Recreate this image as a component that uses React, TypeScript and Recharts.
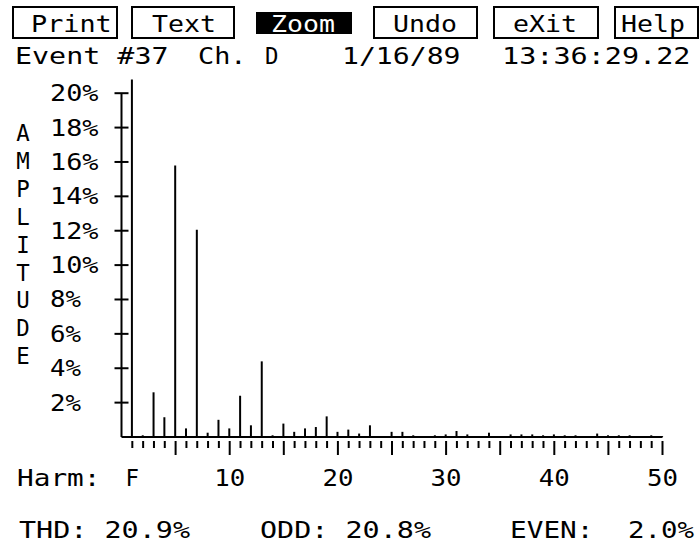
import React from 'react'
import { BarChart, Bar, XAxis, YAxis, ReferenceLine } from 'recharts'

// harmonic spectrum, amplitude in % of fundamental
const harmonics = [
    1, 2, 3, 4, 5, 6, 7, 8, 9, 10,
    11, 12, 13, 14, 15, 16, 17, 18, 19, 20,
    21, 22, 23, 24, 25, 26, 27, 28, 29, 30,
    31, 32, 33, 34, 35, 36, 37, 38, 39, 40,
    41, 42, 43, 44, 45, 46, 47, 48, 49, 50
]
const amplitude = [
    100, 0.1, 2.6, 1.15, 15.8, 0.5, 12.05, 0.25, 1.0, 0.5,
    2.4, 0.68, 4.4, 0.1, 0.78, 0.3, 0.5, 0.58, 1.2, 0.3,
    0.43, 0.2, 0.68, 0.05, 0.3, 0.3, 0.1, 0.05, 0.1, 0.15,
    0.35, 0.15, 0.05, 0.25, 0.05, 0.15, 0.15, 0.15, 0.1, 0.15,
    0.1, 0.1, 0.05, 0.2, 0.1, 0.1, 0.1, 0.05, 0.1, 0.05
]
const yTicks = [2, 4, 6, 8, 10, 12, 14, 16, 18, 20]
const harmLabels: Record<number, string> = { 1: 'F', 10: '10', 20: '20', 30: '30', 40: '40', 50: '50' }

const menuItems = ['Print', 'Text', 'Zoom', 'Undo', 'eXit', 'Help']
const headerFields = ['Event #37', 'Ch.', 'D', '1/16/89', '13:36:29.22']
const axisTitle = 'AMPLITUDE'
const xTitle = 'Harm:'
const summaryFields = ['THD: 20.9%', 'ODD: 20.8%', 'EVEN:', '2.0%']

const data = harmonics.map((h, i) => ({ h, amp: amplitude[i] }))

// layout
const W = 700
const H = 552
const PLOT_LEFT = 121.5
const PLOT_RIGHT = 662.5
const PLOT_BOTTOM = 437
const Y_MAX = 20.8
const PX_PER_PCT = 17.19
const PLOT_TOP = PLOT_BOTTOM - Y_MAX * PX_PER_PCT
const FONT = '"DejaVu Sans Mono", "Liberation Mono", monospace'
const FS = 23
const PITCH = 17.5 // character cell of the old 40 column screen
const GLYPH = 13.5

const cellWidth = (s: string, pitch = PITCH) => (s.length - 1) * pitch + GLYPH

const menuLayout = [
    { bx: 13, bw: 104, tx: 31 },
    { bx: 132, bw: 102, tx: 152 },
    { bx: 256, bw: 96, tx: 271, inv: true },
    { bx: 374, bw: 103, tx: 393 },
    { bx: 494, bw: 104, tx: 513 },
    { bx: 615, bw: 83, tx: 621 }
]
const headerX = [15, 198, 265, 342, 502]
const summaryX = [19, 260, 510, 628]

const YTick = (props: any) => {
    const { y, payload } = props
    const s = `${payload.value}%`
    return (
        <g>
            <line x1={PLOT_LEFT - 7} x2={PLOT_LEFT + 7} y1={y} y2={y} stroke="#000" strokeWidth={2} />
            <text
                x={50}
                y={y + 8}
                fontFamily={FONT}
                fontSize={FS}
                fill="#000"
                textLength={cellWidth(s)}
                lengthAdjust="spacingAndGlyphs"
            >
                {s}
            </text>
        </g>
    )
}

const XTick = (props: any) => {
    const { x, payload } = props
    const v = payload.value
    const long = v % 5 === 0
    const label = harmLabels[v]
    return (
        <g>
            <line x1={x} x2={x} y1={PLOT_BOTTOM + 4} y2={PLOT_BOTTOM + (long ? 18 : 11)} stroke="#000" strokeWidth={2} />
            {label && (
                <text
                    x={x}
                    y={486}
                    textAnchor="middle"
                    fontFamily={FONT}
                    fontSize={FS}
                    fill="#000"
                    textLength={cellWidth(label)}
                    lengthAdjust="spacingAndGlyphs"
                >
                    {label}
                </text>
            )}
        </g>
    )
}

const txt = (s: string, x: number, y: number, fill = '#000', key?: string | number, pitch = PITCH) => (
    <text
        key={key}
        x={x}
        y={y}
        fontFamily={FONT}
        fontSize={FS}
        fill={fill}
        textLength={cellWidth(s, pitch)}
        lengthAdjust="spacingAndGlyphs"
        style={{ whiteSpace: 'pre' }}
    >
        {s}
    </text>
)

export default function App() {
    return (
        <div style={{ position: 'relative', width: W, height: H, background: '#fff' }}>
            <style>{'body{margin:0}'}</style>
            <BarChart
                width={W}
                height={H}
                data={data}
                margin={{ top: PLOT_TOP, right: W - PLOT_RIGHT, bottom: 0, left: 0 }}
            >
                <XAxis
                    dataKey="h"
                    type="number"
                    domain={[0, 50]}
                    ticks={harmonics}
                    interval={0}
                    height={H - PLOT_BOTTOM}
                    tick={XTick}
                    tickLine={false}
                    axisLine={{ stroke: '#000', strokeWidth: 2 }}
                />
                <YAxis
                    type="number"
                    domain={[0, Y_MAX]}
                    allowDataOverflow
                    ticks={yTicks}
                    interval={0}
                    width={PLOT_LEFT}
                    tick={YTick}
                    tickLine={false}
                    axisLine={false}
                />
                <ReferenceLine
                    segment={[{ x: 0, y: 0 }, { x: 0, y: 20 }]}
                    stroke="#000"
                    strokeWidth={2}
                    ifOverflow="visible"
                />
                <Bar dataKey="amp" fill="#000" barSize={2} isAnimationActive={false} />
            </BarChart>
            <svg
                width={W}
                height={H}
                style={{ position: 'absolute', left: 0, top: 0, pointerEvents: 'none' }}
            >
                {menuItems.map((m, i) => {
                    const l = menuLayout[i]
                    return (
                        <g key={m}>
                            {l.inv ? (
                                <rect x={l.bx} y={12} width={l.bw} height={22} fill="#000" />
                            ) : (
                                <rect x={l.bx} y={7} width={l.bw} height={31} fill="none" stroke="#000" strokeWidth={2} />
                            )}
                            {txt(m, l.tx, 32, l.inv ? '#fff' : '#000', undefined, 16.8)}
                        </g>
                    )
                })}
                {headerFields.map((s, i) => txt(s, headerX[i], 64, '#000', 'h' + i))}
                {axisTitle.split('').map((c, i) => (
                    <text
                        key={'a' + i}
                        x={23}
                        y={133 + i * 27.9 + 8}
                        textAnchor="middle"
                        fontFamily={FONT}
                        fontSize={FS}
                        fill="#000"
                        textLength={GLYPH}
                        lengthAdjust="spacingAndGlyphs"
                    >
                        {c}
                    </text>
                ))}
                {txt(xTitle, 17, 486)}
                {summaryFields.map((s, i) => txt(s, summaryX[i], 538, '#000', 's' + i))}
            </svg>
        </div>
    )
}
